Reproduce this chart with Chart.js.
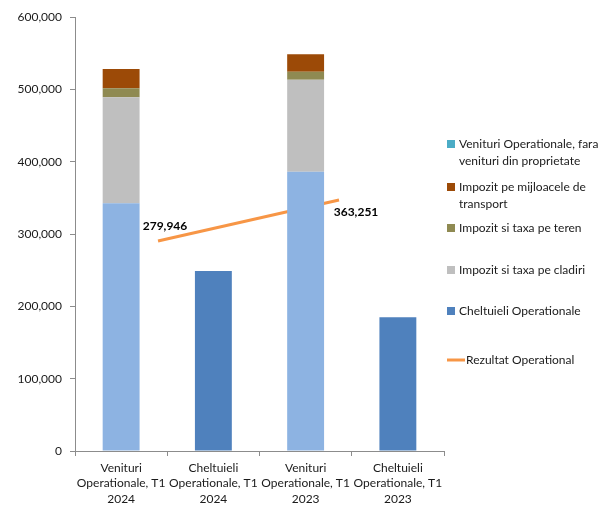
<!DOCTYPE html>
<html>
<head>
<meta charset="utf-8">
<script src="https://cdn.jsdelivr.net/npm/chart.js@4.4.1/dist/chart.umd.min.js"></script>
<style>
  html, body { margin: 0; padding: 0; background: #fff; }
  #wrap { width: 607px; height: 505px; position: relative; }
</style>
</head>
<body>
<div id="wrap"><canvas id="c" width="607" height="505"></canvas></div>
<script>
// ---- data ----
const categories = [
  ['Venituri', 'Operationale, T1', '2024'],
  ['Cheltuieli', 'Operationale, T1', '2024'],
  ['Venituri', 'Operationale, T1', '2023'],
  ['Cheltuieli', 'Operationale, T1', '2023']
];
const venituriFaraProprietate = [342500, null, 386200, null];
const impozitCladiri          = [146500, null, 127100, null];
const impozitTeren            = [12500,  null, 11100,  null];
const impozitTransport        = [26600,  null, 24100,  null];
const cheltuieliOperationale  = [null, 248900, null, 184800];
const rezultatPeriods = [0, 1];
const rezultatOperational = [279946, 363251];
const yTicks = [0, 100000, 200000, 300000, 400000, 500000, 600000];

const FONT = 'Lato, "Open Sans", sans-serif';
const TXT = '#1a1a1a';
const AXIS = '#8c8c8c';

const fmt = v => Math.round(v).toLocaleString('en-US');

const legendPlugin = {
  id: 'customLegend',
  afterDraw(chart) {
    const ctx = chart.ctx;
    const items = chart.options.plugins.customLegend.items;
    ctx.save();
    ctx.font = '12px ' + FONT;
    ctx.fillStyle = TXT;
    ctx.textBaseline = 'middle';
    items.forEach(it => {
      const ds = chart.data.datasets[it.index];
      const lines = ds.legendLines;
      const x0 = 447, y0 = it.y;
      if (ds.type === 'line') {
        ctx.strokeStyle = ds.borderColor;
        ctx.lineWidth = 3;
        ctx.beginPath();
        ctx.moveTo(x0, y0);
        ctx.lineTo(x0 + 18, y0);
        ctx.stroke();
        ctx.fillStyle = TXT;
        ctx.fillText(lines[0], x0 + 19, y0);
      } else {
        ctx.fillStyle = ds.legendColor;
        ctx.fillRect(x0, y0 - 4, 8, 8);
        ctx.fillStyle = TXT;
        lines.forEach((l, i) => ctx.fillText(l, x0 + 12, y0 + i * 17));
      }
    });
    ctx.restore();
  }
};

const lineLabelPlugin = {
  id: 'lineLabels',
  afterDatasetsDraw(chart) {
    const opts = chart.options.plugins.lineLabels;
    const meta = chart.getDatasetMeta(opts.datasetIndex);
    const data = chart.data.datasets[opts.datasetIndex].data;
    const ctx = chart.ctx;
    ctx.save();
    ctx.font = 'bold 12px ' + FONT;
    ctx.fillStyle = '#000';
    ctx.textAlign = 'center';
    ctx.textBaseline = 'middle';
    meta.data.forEach((pt, i) => {
      const off = opts.offsets[i];
      ctx.fillText(fmt(data[i].y), pt.x + off[0], pt.y + off[1]);
    });
    ctx.restore();
  }
};

const barOpts = { xAxisID: 'x', yAxisID: 'y', stack: 's', grouped: false, borderWidth: 0 };

new Chart(document.getElementById('c'), {
  type: 'bar',
  data: {
    labels: categories,
    datasets: [
      { ...barOpts, label: 'Venituri Operationale, fara venituri din proprietate', data: venituriFaraProprietate,
        backgroundColor: '#8DB3E2', legendColor: '#4BACC6',
        legendLines: ['Venituri Operationale, fara', 'venituri din proprietate'] },
      { ...barOpts, label: 'Impozit si taxa pe cladiri', data: impozitCladiri,
        backgroundColor: '#BFBFBF', legendColor: '#BFBFBF', legendLines: ['Impozit si taxa pe cladiri'] },
      { ...barOpts, label: 'Impozit si taxa pe teren', data: impozitTeren,
        backgroundColor: '#8F8A52', legendColor: '#8F8A52', legendLines: ['Impozit si taxa pe teren'] },
      { ...barOpts, label: 'Impozit pe mijloacele de transport', data: impozitTransport,
        backgroundColor: '#9C4A07', legendColor: '#9C4A07', legendLines: ['Impozit pe mijloacele de', 'transport'] },
      { ...barOpts, label: 'Cheltuieli Operationale', data: cheltuieliOperationale,
        backgroundColor: '#4F81BD', legendColor: '#4F81BD', legendLines: ['Cheltuieli Operationale'] },
      { type: 'line', label: 'Rezultat Operational', xAxisID: 'x2', yAxisID: 'y2',
        data: rezultatPeriods.map((p, i) => ({ x: p, y: rezultatOperational[i] })),
        borderColor: '#F79646', borderWidth: 3, pointRadius: 0, fill: false, tension: 0,
        borderCapStyle: 'butt', legendLines: ['Rezultat Operational'] }
    ]
  },
  options: {
    responsive: false,
    animation: false,
    devicePixelRatio: 1,
    layout: { padding: { top: 17, right: 163, left: 0, bottom: 0 } },
    datasets: { bar: { categoryPercentage: 1.0, barPercentage: 0.4 } },
    plugins: {
      legend: { display: false },
      tooltip: { enabled: false },
      customLegend: {
        items: [
          { index: 0, y: 144 },
          { index: 3, y: 187 },
          { index: 2, y: 228 },
          { index: 1, y: 270 },
          { index: 4, y: 311 },
          { index: 5, y: 360 }
        ]
      },
      lineLabels: { datasetIndex: 5, offsets: [[7, -15], [17, 12]] }
    },
    scales: {
      x: {
        stacked: true,
        offset: true,
        grid: { display: true, drawOnChartArea: false, drawTicks: true, tickLength: 5, color: AXIS, offset: true },
        border: { display: true, color: AXIS, width: 1 },
        ticks: { color: TXT, font: { family: FONT, size: 12, lineHeight: 1.3 }, maxRotation: 0, minRotation: 0, autoSkip: false, padding: 4 },
        afterFit(scale) { scale.height = 54; }
      },
      y: {
        stacked: true,
        min: 0, max: 600000,
        afterBuildTicks(scale) { scale.ticks = yTicks.map(v => ({ value: v })); },
        grid: { display: true, drawOnChartArea: false, drawTicks: true, tickLength: 5, color: AXIS },
        border: { display: true, color: AXIS, width: 1 },
        ticks: { color: TXT, font: { family: FONT, size: 12 }, padding: 8, callback: v => fmt(v) },
        afterFit(scale) { scale.width = 75; }
      },
      x2: {
        type: 'linear', display: false, offset: false, min: -0.4586, max: 1.580
      },
      y2: {
        type: 'linear', display: false, offset: false, min: -146738, max: 735058
      }
    }
  },
  plugins: [legendPlugin, lineLabelPlugin]
});
</script>
</body>
</html>
